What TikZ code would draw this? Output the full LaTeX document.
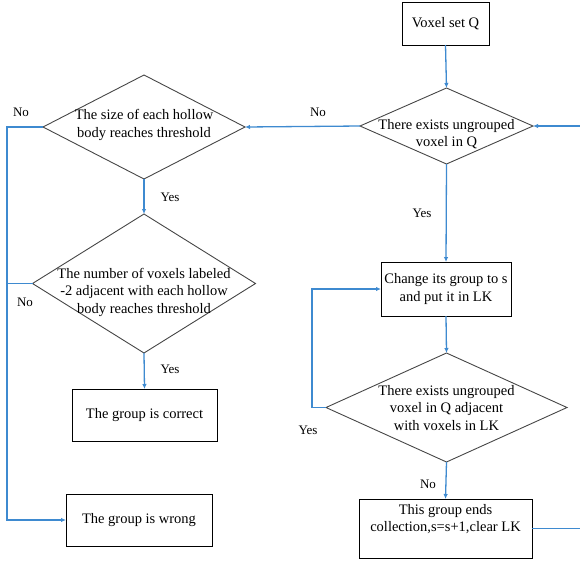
\documentclass[tikz,border=0pt]{standalone}
\usepackage{fontspec}
\setmainfont{Liberation Serif}
\usetikzlibrary{shapes.geometric,arrows.meta}
\definecolor{flowblue}{RGB}{62,138,208}
\definecolor{diagray}{RGB}{70,70,70}
\begin{document}
\begin{tikzpicture}[x=1pt,y=-1pt,
  boxnode/.style={draw=black,line width=0.9pt,inner sep=0pt,outer sep=0pt},
  dianode/.style={draw=diagray,line width=0.9pt,shape=diamond,inner sep=0pt,outer sep=0pt},
  txt/.style={align=center,font=\fontsize{14.5}{17.5}\selectfont,inner sep=0pt},
  lbl/.style={font=\fontsize{13}{15}\selectfont,inner sep=0pt},
  flow/.style={draw=flowblue,line width=1.3pt},
  arr/.style={flow,-{Latex[length=5pt,width=4.5pt]}}]
\useasboundingbox (0,0) rectangle (580,563);
% boxes
\node[boxnode,minimum width=87,minimum height=43] (q) at (445.5,23.5) {};
\node[txt] at (q) {Voxel set Q};
\node[boxnode,minimum width=130,minimum height=54] (chg) at (446,289) {};
\node[txt] at (chg) {Change its group to s\\and put it in LK};
\node[boxnode,minimum width=173,minimum height=59] (ends) at (445.5,528.5) {};
\node[txt] at (445.5,519) {This group ends\\collection,s=s+1,clear LK};
\node[boxnode,minimum width=145,minimum height=52] (ok) at (144.5,415) {};
\node[txt] at (ok) {The group is correct};
\node[boxnode,minimum width=146,minimum height=52] (bad) at (139,520) {};
\node[txt] at (bad) {The group is wrong};
% diamonds
\node[dianode,minimum width=173,minimum height=76] (d1) at (446.5,126) {};
\node[txt] at (446.5,134) {There exists ungrouped\\voxel in Q};
\node[dianode,minimum width=241,minimum height=109] (d3) at (446.5,407.5) {};
\node[txt] at (446.5,408) {There exists ungrouped\\voxel in Q adjacent\\with voxels in LK};
\node[dianode,minimum width=202,minimum height=104] (d2) at (144,127) {};
\node[txt] at (144,125) {The size of each hollow\\body reaches threshold};
\node[dianode,minimum width=223,minimum height=139] (d4) at (144,283.5) {};
\node[txt] at (144,292) {The number of voxels labeled\\-2 adjacent with each hollow\\body reaches threshold};
% coordinates
\coordinate (lt) at (7,127);
\coordinate (lm) at (7,283.5);
\coordinate (lb) at (7,520);
\coordinate (rin) at (580,126);
\coordinate (rout) at (580,528.5);
\coordinate (loopa) at (312,407.5);
\coordinate (loopb) at (312,289);
% connectors
\draw[arr] (q.south) -- (d1.north);
\draw[arr] (d1.west) -- (d2.east);
\draw[arr] (rin) -- (d1.east);
\draw[arr] (d1.south) -- (chg.north);
\draw[arr] (chg.south) -- (d3.north);
\draw[arr] (d3.west) -- (loopa) -- (loopb) -- (chg.west);
\draw[arr] (d3.south) -- (ends.north);
\draw[flow] (ends.east) -- (rout);
\draw[arr] (d2.south) -- (d4.north);
\draw[arr] (d4.south) -- (ok.north);
\draw[arr] (d2.west) -- (lt) -- (lb) -- (bad.west);
\draw[flow] (d4.west) -- (lm);
% labels
\node[lbl] at (318,112) {No};
\node[lbl] at (422,213) {Yes};
\node[lbl] at (308,430) {Yes};
\node[lbl] at (428,484) {No};
\node[lbl] at (21,112) {No};
\node[lbl] at (25,302) {No};
\node[lbl] at (170,197) {Yes};
\node[lbl] at (170,369) {Yes};
\end{tikzpicture}
\end{document}
